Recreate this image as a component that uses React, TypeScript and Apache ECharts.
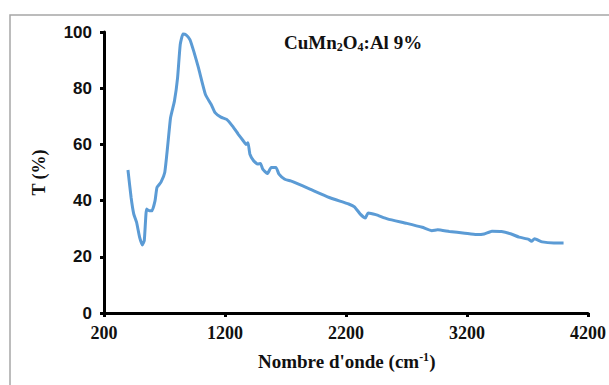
import React, { useEffect, useRef } from "react";
import * as echarts from "echarts";

const X_MIN = 200;
const X_MAX = 4200;
const X_STEP = 1000;
const Y_MIN = 0;
const Y_MAX = 100;
const Y_STEP = 20;

const wavenumber = [
  398, 424, 446, 469, 494, 517, 533, 552, 574, 597, 622, 638, 670, 702, 725, 750, 782, 808, 830, 853,
  878, 910, 942, 981, 1038, 1086, 1118, 1166, 1214, 1262, 1310, 1352, 1374, 1390, 1406, 1438, 1470,
  1493, 1512, 1550, 1582, 1621, 1646, 1694, 1742, 1774, 1902, 2062, 2222, 2270, 2318, 2360, 2382,
  2446, 2542, 2702, 2830, 2910, 2958, 3054, 3182, 3278, 3342, 3406, 3486, 3566, 3630, 3710, 3733,
  3758, 3822, 3918, 3998,
];
const transmittance = [
  50.9, 41.1, 35.2, 32.3, 27, 24.2, 25.8, 37, 36.4, 36.4, 40, 44.7, 46.5, 50, 58.9, 69.5, 75.4, 83.7,
  95.5, 99.3, 99, 97.3, 93.1, 87.2, 77.8, 74.2, 71.3, 69.7, 68.9, 66.5, 63.6, 61.2, 60, 60.6, 56.5,
  54.1, 53, 53.2, 51.2, 49.6, 51.8, 51.8, 49.4, 47.6, 47, 46.5, 44.1, 41.1, 38.8, 37.8, 35.2, 33.8,
  35.6, 35, 33.5, 31.9, 30.5, 29.3, 29.6, 29, 28.4, 27.9, 28.1, 29.1, 29, 28.1, 27, 26.2, 25.5, 26.4,
  25.3, 24.9, 24.9,
];

const xAxisName = "Nombre d'onde (cm";
const yAxisName = "T (%)";

export default function App() {
  const ref = useRef<HTMLDivElement>(null);
  useEffect(() => {
    document.body.style.margin = "0";
    const chart = echarts.init(ref.current!, null, { renderer: "svg" });
    const data = wavenumber.map((w, i) => [w - X_MIN, transmittance[i]]);
    chart.setOption({
      animation: false,
      backgroundColor: "#ffffff",
      grid: { left: 104, right: 18, top: 32, bottom: 72, containLabel: false },
      graphic: [
        {
          type: "rect",
          shape: { x: 10, y: 15, width: 640, height: 400 },
          style: { fill: "none", stroke: "#a6a6a6", lineWidth: 1.5 },
          silent: true,
        },
        {
          type: "text",
          left: 284,
          top: 33,
          style: {
            text: "{b|CuMn}{s|2}{b|O}{s|4}{b|:Al 9%}",
            rich: {
              b: { fontFamily: "Liberation Serif", fontWeight: "bold", fontSize: 19, fill: "#111" },
              s: { fontFamily: "Liberation Serif", fontWeight: "bold", fontSize: 12, fill: "#111", padding: [9, 0, 0, 0] },
            },
          },
        },
        {
          type: "text",
          left: 258,
          top: 351,
          style: {
            text: "{b|" + xAxisName + "}{s|-1}{b|)}",
            rich: {
              b: { fontFamily: "Liberation Serif", fontWeight: "bold", fontSize: 19, fill: "#111" },
              s: { fontFamily: "Liberation Serif", fontWeight: "bold", fontSize: 12, fill: "#111", padding: [0, 0, 9, 0] },
            },
          },
        },
      ],
      xAxis: {
        type: "value",
        min: 0,
        max: X_MAX - X_MIN,
        interval: X_STEP,
        splitLine: { show: false },
        axisLine: { show: true, lineStyle: { color: "#000", width: 3 } },
        axisTick: { show: true, inside: false, length: 4, lineStyle: { color: "#000", width: 3 } },
        axisLabel: {
          formatter: (v: number) => String(v + X_MIN),
          fontFamily: "Liberation Serif",
          fontWeight: "bold",
          fontSize: 18,
          color: "#111",
          margin: 11,
        },
      },
      yAxis: {
        type: "value",
        min: Y_MIN,
        max: Y_MAX,
        interval: Y_STEP,
        name: yAxisName,
        nameLocation: "middle",
        nameGap: 56,
        nameTextStyle: { fontFamily: "Liberation Serif", fontWeight: "bold", fontSize: 18, color: "#111" },
        splitLine: { show: false },
        axisLine: { show: true, lineStyle: { color: "#000", width: 3 } },
        axisTick: { show: true, inside: false, length: 4, lineStyle: { color: "#000", width: 3 } },
        axisLabel: {
          fontFamily: "Liberation Sans",
          fontWeight: "bold",
          fontSize: 17,
          color: "#111",
          margin: 12,
        },
      },
      series: [
        {
          type: "line",
          data,
          showSymbol: false,
          smooth: 0.15,
          lineStyle: { color: "#5b9bd5", width: 3 },
        },
      ],
    });
    return () => chart.dispose();
  }, []);
  return <div ref={ref} style={{ width: 609, height: 385 }} />;
}
